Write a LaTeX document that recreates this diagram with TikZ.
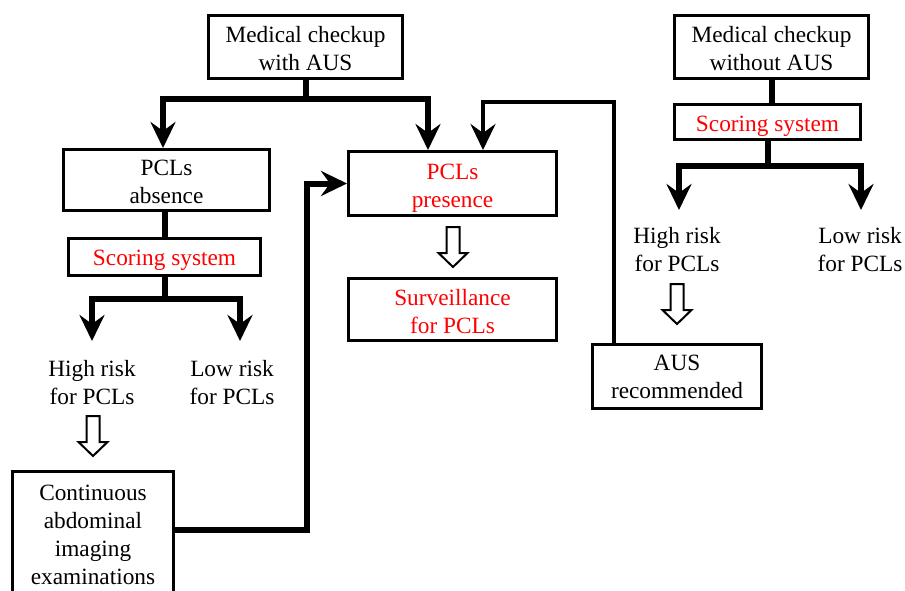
\documentclass[tikz,border=0pt]{standalone}
\usepackage{fontspec}
\setmainfont{Liberation Serif}
\usetikzlibrary{arrows.meta}
\begin{document}
\begin{tikzpicture}[x=1pt,y=-1pt,
  box/.style={draw, line width=3pt, inner sep=0pt},
  redtxt/.style={text=red},
  txt/.style={inner sep=0pt, align=center, font=\fontsize{23.3}{28}\selectfont},
  thk/.style={line width=6pt, line join=miter},
  thn/.style={line width=4pt, line join=miter},
  tip/.style={-{Stealth[length=26pt,width=25pt,inset=9pt]}},
  hollow/.pic={\draw[line width=2pt, fill=white, line join=miter]
     (-6.5,0) -- (-6.5,26) -- (-14.5,26) -- (0,40) -- (14.5,26) -- (6.5,26) -- (6.5,0) -- cycle;}
]
\useasboundingbox (0,0) rectangle (905,591);

\node[box, minimum width=194, minimum height=63] (mA) at (305.5,47) {};
\node[txt] (mAT) at ([yshift=-2]mA.center) {Medical checkup\\with AUS};
\node[box, minimum width=194, minimum height=63] (mN) at (771.5,47) {};
\node[txt] (mNT) at ([yshift=-2]mN.center) {Medical checkup\\without AUS};
\node[box, minimum width=206, minimum height=61] (abs) at (166.5,180) {};
\node[txt] (absT) at ([yshift=-2]abs.center) {PCLs\\absence};
\node[box, minimum width=192, minimum height=37] (sL) at (164.5,257) {};
\node[txt, redtxt] (sLT) at ([yshift=-3]sL.center) {Scoring system};
\node[box, minimum width=208, minimum height=64] (pre) at (452.5,183.5) {};
\node[txt, redtxt] (preT) at ([yshift=-5]pre.center) {PCLs\\presence};
\node[box, minimum width=208, minimum height=62] (sur) at (452.5,309.5) {};
\node[txt, redtxt] (surT) at ([yshift=-2]sur.center) {Surveillance\\for PCLs};
\node[box, minimum width=186, minimum height=35] (sR) at (767.5,122) {};
\node[txt, redtxt] (sRT) at ([yshift=-4]sR.center) {Scoring system};
\node[box, minimum width=169, minimum height=64] (rec) at (677,376) {};
\node[txt] (recT) at ([yshift=-1]rec.center) {AUS\\recommended};
\node[box, minimum width=161, minimum height=126] (cont) at (93,534) {};
\node[txt] (contT) at ([yshift=-1]cont.center) {Continuous\\abdominal\\imaging\\examinations};

\node[txt] (hL) at (92,383) {High risk\\for PCLs};
\node[txt] (lL) at (232,383) {Low risk\\for PCLs};
\node[txt] (hR) at (677,250) {High risk\\for PCLs};
\node[txt] (lR) at (860,250) {Low risk\\for PCLs};

% top branch
\coordinate (jA) at (305.5,99);
\draw[thk] (mA.south) -- (jA);
\draw[thk, tip] (jA) -| ([xshift=-3.5]abs.north);
\draw[thk, tip] (jA) -| ([xshift=-24.5]pre.north);

% right loop
\coordinate (loopR) at (483,102);
\draw[thn, tip] ([xshift=-63]rec.north) |- (loopR) -- ([xshift=30.5]pre.north);

% left side
\draw[thk] (sL.north |- abs.south) -- (sL.north);
\coordinate (jL) at (164.5,299);
\coordinate (tHL) at (92,341);
\coordinate (tLL) at (240,341);
\draw[thk] (sL.south) -- (jL);
\draw[thk, tip] (jL) -| (tHL);
\draw[thk, tip] (jL) -| (tLL);

% right side
\draw[thk] (mN.south) -- (mN.south |- sR.north);
\coordinate (jR) at (767.5,166);
\coordinate (tHR) at (679,210);
\coordinate (tLR) at (861,210);
\draw[thk] (sR.south) -- (jR);
\draw[thk, tip] (jR) -| (tHR);
\draw[thk, tip] (jR) -| (tLR);

% bottom loop
\coordinate (jC) at (307,530);
\draw[thk, tip] (cont.east |- jC) -- (jC) |- (pre.west);

% hollow arrows
\pic at (93,416) {hollow};
\pic at (677,284) {hollow};
\pic at (453,227) {hollow};
\end{tikzpicture}
\end{document}
